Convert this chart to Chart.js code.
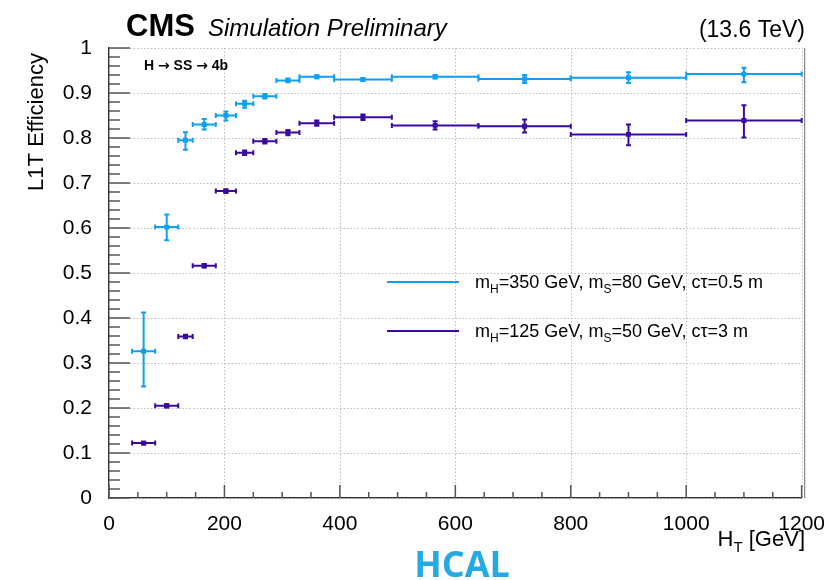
<!DOCTYPE html>
<html>
<head>
<meta charset="utf-8">
<script src="https://cdn.jsdelivr.net/npm/chart.js@4/dist/chart.umd.min.js"></script>
<style>
  html, body { margin: 0; padding: 0; background: #fff; }
  #wrap { width: 831px; height: 580px; position: relative; }
</style>
</head>
<body>
<div id="wrap"><canvas id="grafico"></canvas></div>
<script>
// =========================================================
// 1. DATA
// =========================================================
// HT bins: lower edge, upper edge and the point position
const htLow     = [40, 80, 120, 145, 185, 220, 250, 290, 330, 390, 490, 640, 800, 1000];
const htHigh    = [80, 120, 145, 185, 220, 250, 290, 330, 390, 490, 640, 800, 1000, 1200];
const htCenters = [60, 100, 132.5, 165, 202.5, 235, 270, 310, 360, 440, 565, 720, 900, 1100];

// mH=350 GeV, mS=80 GeV, ctau=0.5 m
const effHeavy   = [0.326, 0.602, 0.795, 0.830, 0.850, 0.876, 0.893, 0.928, 0.936, 0.930, 0.936, 0.931, 0.934, 0.942];
const errUpHeavy = [0.086, 0.028, 0.018, 0.012, 0.009, 0.007, 0.005, 0.004, 0.003, 0.003, 0.004, 0.009, 0.012, 0.014];
const errDnHeavy = [0.078, 0.029, 0.021, 0.011, 0.011, 0.009, 0.005, 0.004, 0.003, 0.003, 0.004, 0.009, 0.012, 0.018];

// mH=125 GeV, mS=50 GeV, ctau=3 m
const effLight   = [0.122, 0.205, 0.359, 0.516, 0.682, 0.767, 0.793, 0.812, 0.833, 0.846, 0.828, 0.826, 0.808, 0.839];
const errUpLight = [0.003, 0.004, 0.004, 0.004, 0.004, 0.005, 0.005, 0.006, 0.006, 0.006, 0.009, 0.015, 0.022, 0.034];
const errDnLight = [0.003, 0.004, 0.004, 0.004, 0.004, 0.005, 0.005, 0.006, 0.006, 0.006, 0.009, 0.014, 0.024, 0.038];

const yTicks = [0, 0.1, 0.2, 0.3, 0.4, 0.5, 0.6, 0.7, 0.8, 0.9, 1];
const xTicks = [0, 200, 400, 600, 800, 1000, 1200];

const COR_CLARA  = '#0f9ff5';
const COR_ESCURA = '#3a0a9f';
const FONTE = "'Liberation Sans', Arial, sans-serif";

// turns the arrays into points {x, y} for Chart.js
function montarPontos(ys) {
    return htCenters.map((x, i) => ({ x: x, y: ys[i] }));
}

// =========================================================
// 2. PLUGIN: dotted grid + ROOT style error bars (through the scales)
// =========================================================
const barrasErro = {
    id: 'barrasErro',
    beforeDatasetsDraw(chart) {
        const ctx = chart.ctx;
        const a = chart.chartArea;
        const sx = chart.scales.x, sy = chart.scales.y;

        // dotted grid at the major ticks
        ctx.save();
        ctx.strokeStyle = '#bdbdbd';
        ctx.lineWidth = 1;
        ctx.setLineDash([1.5, 2]);
        ctx.beginPath();
        xTicks.forEach(v => {
            const x = Math.round(sx.getPixelForValue(v)) + 0.5;
            ctx.moveTo(x, a.top); ctx.lineTo(x, a.bottom);
        });
        yTicks.forEach(v => {
            const y = Math.round(sy.getPixelForValue(v)) + 0.5;
            ctx.moveTo(a.left, y); ctx.lineTo(a.right, y);
        });
        ctx.stroke();
        ctx.restore();

        chart.data.datasets.forEach(ds => {
            const e = ds.erros;
            ctx.save();
            ctx.strokeStyle = ds.borderColor;
            ctx.lineWidth = 2;
            ds.data.forEach((p, i) => {
                const x0 = sx.getPixelForValue(e.lo[i]);
                const x1 = sx.getPixelForValue(e.hi[i]);
                const xc = sx.getPixelForValue(p.x);
                const yc = sy.getPixelForValue(p.y);
                const yT = sy.getPixelForValue(p.y + e.up[i]);
                const yB = sy.getPixelForValue(p.y - e.dn[i]);
                ctx.beginPath();
                // horizontal bar + end caps
                ctx.moveTo(x0, yc); ctx.lineTo(x1, yc);
                ctx.moveTo(x0, yc - 2.5); ctx.lineTo(x0, yc + 2.5);
                ctx.moveTo(x1, yc - 2.5); ctx.lineTo(x1, yc + 2.5);
                // vertical bar + end caps
                ctx.moveTo(xc, yT); ctx.lineTo(xc, yB);
                ctx.moveTo(xc - 2.5, yT); ctx.lineTo(xc + 2.5, yT);
                ctx.moveTo(xc - 2.5, yB); ctx.lineTo(xc + 2.5, yB);
                ctx.stroke();
            });
            ctx.restore();
        });
    }
};

// =========================================================
// 3. PLUGIN: minor ticks, frame and all the texts
// =========================================================
// draws a line of text where some pieces are subscripts
function textoComIndice(ctx, partes, x, y, tam, alinhar) {
    const tamSub = Math.round(tam * 0.68);
    let largura = 0;
    partes.forEach(p => {
        ctx.font = (p[1] ? tamSub : tam) + 'px ' + FONTE;
        largura += ctx.measureText(p[0]).width;
    });
    let cx = alinhar === 'right' ? x - largura : x;
    ctx.textAlign = 'left';
    partes.forEach(p => {
        ctx.font = (p[1] ? tamSub : tam) + 'px ' + FONTE;
        ctx.fillText(p[0], cx, p[1] ? y + tam * 0.28 : y);
        cx += ctx.measureText(p[0]).width;
    });
}

const decoracao = {
    id: 'decoracao',
    afterDraw(chart) {
        const ctx = chart.ctx;
        const a = chart.chartArea;
        const sx = chart.scales.x, sy = chart.scales.y;
        ctx.save();

        // ticks inside the frame (ROOT look)
        ctx.strokeStyle = '#555';
        ctx.lineWidth = 1.5;
        ctx.beginPath();
        for (let i = 0; i <= 50; i++) {
            const y = sy.getPixelForValue(i * 0.02);
            const len = (i % 5 === 0) ? 21 : 11;
            ctx.moveTo(a.left, y); ctx.lineTo(a.left + len, y);
        }
        for (let i = 0; i <= 24; i++) {
            const x = sx.getPixelForValue(i * 50);
            const len = (i % 4 === 0) ? 13 : 6;
            ctx.moveTo(x, a.bottom); ctx.lineTo(x, a.bottom - len);
        }
        ctx.stroke();

        // right edge of the frame
        ctx.strokeStyle = '#888';
        ctx.lineWidth = 1.2;
        ctx.beginPath();
        ctx.moveTo(a.right + 3, a.top); ctx.lineTo(a.right + 3, a.bottom);
        ctx.stroke();

        // header
        ctx.fillStyle = '#000';
        ctx.textBaseline = 'alphabetic';
        ctx.textAlign = 'left';
        ctx.font = 'bold 31px ' + FONTE;
        ctx.fillText('CMS', 126, 36);
        ctx.font = 'italic 24px ' + FONTE;
        ctx.fillText('Simulation Preliminary', 208, 36);
        ctx.textAlign = 'right';
        ctx.font = '23px ' + FONTE;
        ctx.fillText('(13.6 TeV)', 805, 37);

        // process label (arrows from DejaVu, they are bigger)
        ctx.textAlign = 'left';
        let px = 144;
        [['H ', FONTE], ['\u2192', "'DejaVu Sans'"], [' SS ', FONTE], ['\u2192', "'DejaVu Sans'"], [' 4b', FONTE]].forEach(p => {
            ctx.font = 'bold 14px ' + p[1];
            ctx.fillText(p[0], px, 70);
            px += ctx.measureText(p[0]).width;
        });

        // y axis title
        ctx.save();
        ctx.translate(43, 122);
        ctx.rotate(-Math.PI / 2);
        ctx.textAlign = 'center';
        ctx.font = '22px ' + FONTE;
        ctx.fillText('L1T Efficiency', 0, 0);
        ctx.restore();

        // x axis title
        textoComIndice(ctx, [['H', false], ['T', true], [' [GeV]', false]], 805, 546, 22, 'right');

        // legend
        const legenda = [
            { cor: COR_CLARA, y: 282, partes: [['m', false], ['H', true], ['=350 GeV, m', false], ['S', true], ['=80 GeV, c\u03c4=0.5 m', false]] },
            { cor: COR_ESCURA, y: 331, partes: [['m', false], ['H', true], ['=125 GeV, m', false], ['S', true], ['=50 GeV, c\u03c4=3 m', false]] }
        ];
        legenda.forEach(l => {
            ctx.strokeStyle = l.cor;
            ctx.lineWidth = 2;
            ctx.beginPath();
            ctx.moveTo(387, l.y); ctx.lineTo(459, l.y);
            ctx.stroke();
            ctx.fillStyle = '#000';
            textoComIndice(ctx, l.partes, 475, l.y + 6, 18, 'left');
        });

        // HCAL tag
        ctx.fillStyle = '#27a9e1';
        ctx.textAlign = 'center';
        ctx.font = "bold 36px 'Open Sans', " + FONTE;
        ctx.fillText('HCAL', 462, 577);

        ctx.restore();
    }
};

// =========================================================
// 4. CHART
// =========================================================
const ctxGrafico = document.getElementById('grafico').getContext('2d');
new Chart(ctxGrafico, {
    type: 'scatter',
    data: {
        datasets: [
            {
                label: 'mH=350 GeV, mS=80 GeV, ctau=0.5 m',
                data: montarPontos(effHeavy),
                erros: { lo: htLow, hi: htHigh, up: errUpHeavy, dn: errDnHeavy },
                borderColor: COR_CLARA,
                backgroundColor: COR_CLARA,
                pointStyle: 'rect',
                pointRadius: 3.5,
                borderWidth: 0
            },
            {
                label: 'mH=125 GeV, mS=50 GeV, ctau=3 m',
                data: montarPontos(effLight),
                erros: { lo: htLow, hi: htHigh, up: errUpLight, dn: errDnLight },
                borderColor: COR_ESCURA,
                backgroundColor: COR_ESCURA,
                pointStyle: 'rect',
                pointRadius: 3.5,
                borderWidth: 0
            }
        ]
    },
    options: {
        responsive: true,
        maintainAspectRatio: false,
        animation: false,
        layout: { padding: { top: 48, right: 26, left: 0, bottom: 0 } },
        plugins: {
            legend: { display: false },
            tooltip: { enabled: false }
        },
        scales: {
            x: {
                type: 'linear',
                min: 0, max: 1200,
                afterBuildTicks: s => { s.ticks = xTicks.map(v => ({ value: v })); },
                afterFit: s => { s.height = 82; },
                ticks: {
                    color: '#000', font: { family: FONTE, size: 21 }, padding: 6, maxRotation: 0,
                    callback: v => String(v)
                },
                grid: { display: false },
                border: { color: '#333', width: 1.5 }
            },
            y: {
                min: 0, max: 1,
                afterBuildTicks: s => { s.ticks = yTicks.map(v => ({ value: v })); },
                afterFit: s => { s.width = 109; },
                ticks: {
                    color: '#000', font: { family: FONTE, size: 21 }, padding: 9,
                    callback: v => String(+v.toFixed(1))
                },
                grid: { display: false },
                border: { color: '#333', width: 1.5 }
            }
        }
    },
    plugins: [barrasErro, decoracao]
});
</script>
</body>
</html>
